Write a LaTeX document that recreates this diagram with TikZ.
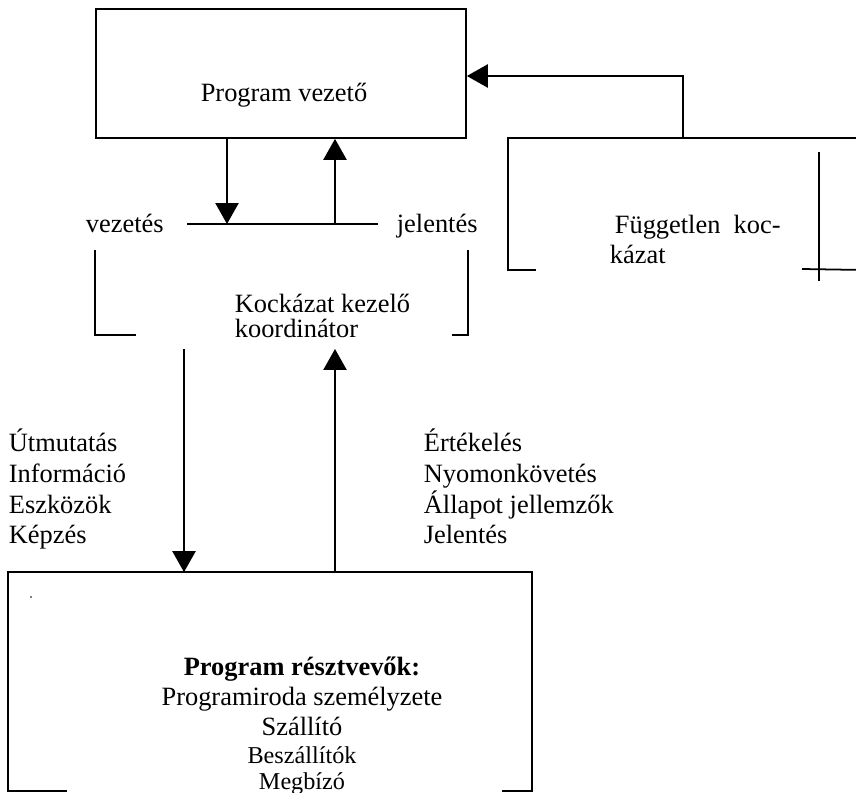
\documentclass[tikz,border=0pt]{standalone}
\usepackage{fontspec}
\setmainfont{Liberation Serif}
\usetikzlibrary{arrows.meta,fit,calc}
\begin{document}
\begin{tikzpicture}[x=0.4545pt,y=-0.4545pt,line width=0.8pt,
  arr/.style={-{Triangle[width=10.5pt,length=9.5pt]}},
  boxframe/.style={draw,inner sep=0pt},
  ghost/.style={inner sep=0pt},
  lbl/.style={inner sep=0pt,anchor=base west,font=\fontsize{12}{13.8}\selectfont},
  ctr/.style={inner sep=0pt,anchor=base,font=\fontsize{12}{13.8}\selectfont},
  smallctr/.style={inner sep=0pt,anchor=base,font=\fontsize{11}{12.65}\selectfont}]
\useasboundingbox (0,0) rectangle (856,793);

% corner points of the frames
\coordinate (pvA) at (96,9);   \coordinate (pvB) at (466,138);
\coordinate (kkA) at (96,251); \coordinate (kkB) at (467,334);
\coordinate (fkA) at (509,139); \coordinate (fkB) at (856,269);
\coordinate (rpA) at (9,573);  \coordinate (rpB) at (531,790);

% --- program manager box
\node[boxframe,fit=(pvA)(pvB)] (pv) {};
\node[ctr] (pvt) at (284,102) {Program vezető};

% --- management / reporting bar
\coordinate (barL) at (187,224);
\coordinate (barR) at (378,224);
\draw (barL) -- (barR);
\coordinate (dn) at (227,224);
\coordinate (up) at (335,224);
\draw[arr] (pv.south -| dn) -- (dn);
\draw[arr] (up) -- (pv.south -| up);
\node[lbl] (vez) at (85,233) {vezetés};
\node[lbl] (jel) at (396,233) {jelentés};

% --- risk coordinator (open bracket frame)
\node[ghost,fit=(kkA)(kkB)] (kk) {};
\draw (kk.north west) -- (kk.south west) -- ++(41,0);
\draw (kk.north east) -- (kk.south east) -- ++(-16,0);
\node[lbl] (kk1) at (234,313) {Kockázat kezelő};
\node[lbl] (kk2) at (234,338) {koordinátor};

% --- independent risk box
\node[ghost,fit=(fkA)(fkB)] (fk) {};
\draw ($(fk.south west)+(28,0)$) -- (fk.south west) -- (fk.north west) -- (fk.north east);
\draw (819,152) -- (819,281);
\draw (802,269) -- (fk.south east);
\node[lbl] (fk1) at (614,234) {Független\ \ koc-};
\node[lbl] (fk2) at (609,264) {kázat};
\coordinate (bend) at (683,76);
\draw[arr] (fk.north -| bend) -- (bend) -- (pv.east |- bend);

% --- participants box
\node[ghost,fit=(rpA)(rpB)] (rp) {};
\draw ($(rp.south west)+(59,0)$) -- (rp.south west) -- (rp.north west)
      -- (rp.north east) -- (rp.south east) -- ++(-30,0);
\fill (31,597) circle (0.45pt);

% --- flows between coordinator and participants
\coordinate (k1) at (184,349);
\coordinate (k2) at (335,349);
\draw[arr] (k1) -- (rp.north -| k1);
\draw[arr] (rp.north -| k2) -- (k2);

% --- downward flow labels
\node[lbl] (l1) at (8,452) {Útmutatás};
\node[lbl] (l2) at (8,482.5) {Információ};
\node[lbl] (l3) at (8,513) {Eszközök};
\node[lbl] (l4) at (8,543.5) {Képzés};

% --- upward flow labels
\node[lbl] (r1) at (423,452) {Értékelés};
\node[lbl] (r2) at (423,482.5) {Nyomonkövetés};
\node[lbl] (r3) at (423,513) {Állapot jellemzők};
\node[lbl] (r4) at (423,543.5) {Jelentés};

% --- participants text
\node[ctr,font=\fontsize{12}{13.8}\selectfont\bfseries] (p0) at (302,675) {Program résztvevők:};
\node[ctr] (p1) at (302,705) {Programiroda személyzete};
\node[ctr] (p2) at (302,735) {Szállító};
\node[smallctr] (p3) at (302,763) {Beszállítók};
\node[smallctr] (p4) at (302,789) {Megbízó};
\end{tikzpicture}
\end{document}
